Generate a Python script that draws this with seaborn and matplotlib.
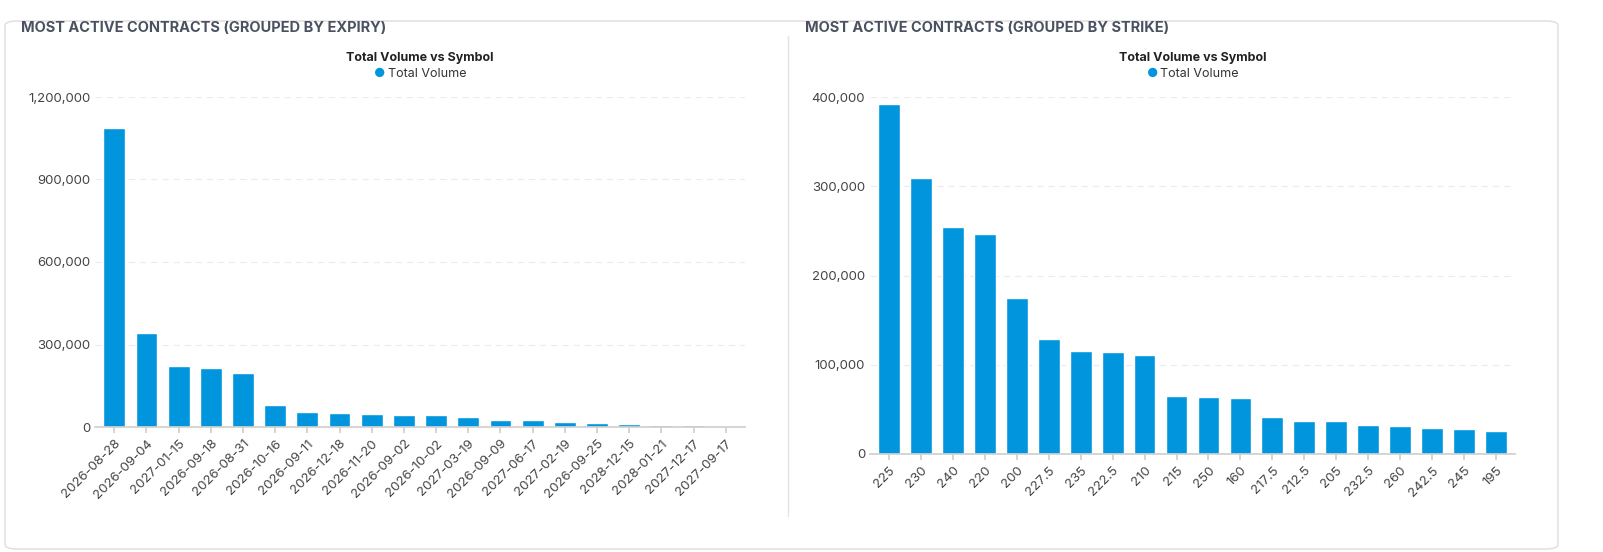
import matplotlib
matplotlib.use("Agg")
import matplotlib.pyplot as plt
import seaborn as sns
import pandas as pd
from matplotlib.ticker import FuncFormatter
from matplotlib.patches import FancyBboxPatch
from matplotlib.lines import Line2D

expiry = ["2026-08-28","2026-09-04","2027-01-15","2026-09-18","2026-08-31","2026-10-16","2026-09-11",
          "2026-12-18","2026-11-20","2026-09-02","2026-10-02","2027-03-19","2026-09-09","2027-06-17",
          "2027-02-19","2026-09-25","2028-12-15","2028-01-21","2027-12-17","2027-09-17"]
expiry_vol = [1087000,342000,222000,215000,196000,80000,55000,51000,48000,44000,42000,38000,26000,24000,
              17000,14000,10000,8000,6000,4000]
strike = ["225","230","240","220","200","227.5","235","222.5","210","215","250","160","217.5","212.5",
          "205","232.5","260","242.5","245","195"]
strike_vol = [392000,309000,254000,246000,175000,129000,115000,114000,111000,65000,64000,63000,41000,
              37000,37000,32500,31000,29000,28000,26000]

sns.set_theme(style="white")
plt.rcParams['font.family'] = ['Inter', 'DejaVu Sans']
color = "#0095DD"
fig = plt.figure(figsize=(16.03, 5.52), dpi=100)
W, H = 1603, 552
bg = FancyBboxPatch((5/W, 3/H), 1553/W, 528/H, boxstyle="round,pad=0,rounding_size=0.008",
                    transform=fig.transFigure, fc="white", ec="#dddddd", lw=1, zorder=-10)
fig.add_artist(bg)
fig.add_artist(Line2D([788/W, 788/W], [36/H, 516/H], color="#e3e3e3", lw=1, zorder=-9))

def panel(rect, cats, vals, ticks, title, tx):
    ax = fig.add_axes(rect)
    ax.patch.set_alpha(0)
    df = pd.DataFrame({"c": cats, "v": vals})
    sns.barplot(data=df, x="c", y="v", color=color, saturation=1, width=0.68, ax=ax)
    ax.set_ylim(0, ticks[-1])
    ax.set_yticks(ticks)
    ax.yaxis.set_major_formatter(FuncFormatter(lambda v, p: f"{int(v):,}"))
    ax.grid(axis="y", linestyle=(0, (6, 4)), color="#ececec", lw=0.8)
    ax.set_axisbelow(True)
    for s in ["top", "right", "left"]:
        ax.spines[s].set_visible(False)
    ax.spines["bottom"].set_color("#d0d0d0")
    ax.tick_params(axis="x", rotation=45, labelsize=9.5, colors="#444", length=4, color="#d0d0d0", bottom=True)
    ax.tick_params(axis="y", labelsize=9.5, colors="#444", length=0)
    for l in ax.get_xticklabels():
        l.set_ha("right"); l.set_rotation_mode("anchor")
    ax.set_xlabel(""); ax.set_ylabel("")
    ax.set_xlim(-0.6, len(cats) - 0.4)
    fig.text(tx/W, 1 - 28/H, title, fontsize=10.5, fontweight="bold", color="#4a5160", va="center")
    cx = rect[0] + rect[2] / 2
    fig.text(cx, 1 - 58/H, "Total Volume vs Symbol", fontsize=9, fontweight="bold", color="#222", ha="center", va="center")
    fig.text(cx - 40/W, 1 - 74/H, "●", fontsize=9, color=color, ha="center", va="center")
    fig.text(cx - 32/W, 1 - 74/H, "Total Volume", fontsize=9, color="#333", ha="left", va="center")

panel([95/W, 1 - 427/H, 650/W, 330/H], expiry, expiry_vol, [0, 300000, 600000, 900000, 1200000],
      "MOST ACTIVE CONTRACTS (GROUPED BY EXPIRY)", 21)
panel([870/W, 1 - 454/H, 645/W, 357/H], strike, strike_vol, [0, 100000, 200000, 300000, 400000],
      "MOST ACTIVE CONTRACTS (GROUPED BY STRIKE)", 805)
fig.savefig("out.png", dpi=100, facecolor="white")
